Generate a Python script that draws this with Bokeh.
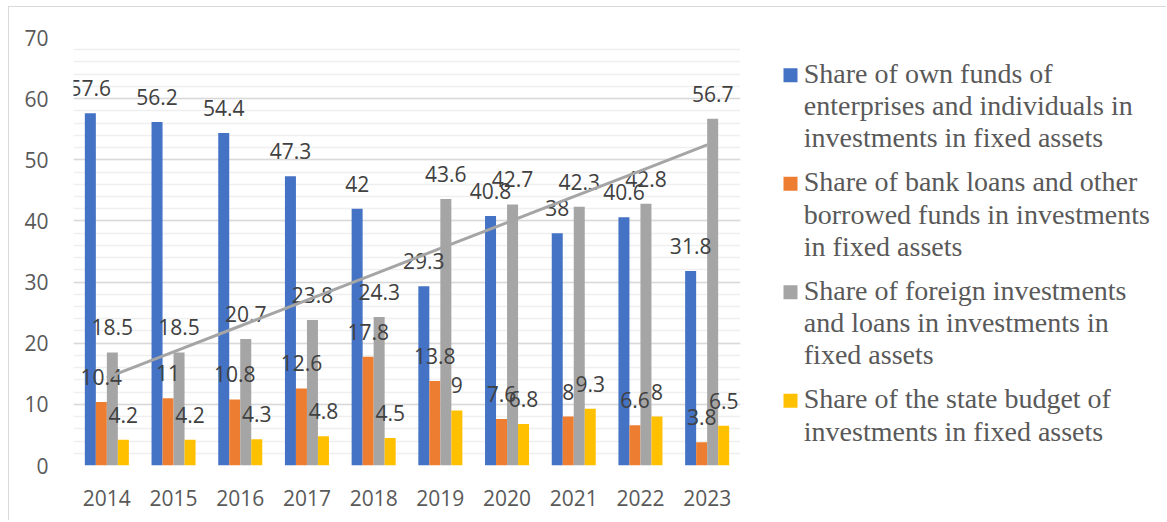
import numpy as np
from bokeh.plotting import figure
from bokeh.models import ColumnDataSource, Range1d, FactorRange, SingleIntervalTicker
from bokeh.transform import dodge
from bokeh.layouts import row
from bokeh.core.properties import value
from bokeh.embed import file_html
from bokeh.resources import INLINE

years = ["2014", "2015", "2016", "2017", "2018", "2019", "2020", "2021", "2022", "2023"]
own_funds = [57.6, 56.2, 54.4, 47.3, 42, 29.3, 40.8, 38, 40.6, 31.8]
bank_loans = [10.4, 11, 10.8, 12.6, 17.8, 13.8, 7.6, 8, 6.6, 3.8]
foreign_inv = [18.5, 18.5, 20.7, 23.8, 24.3, 43.6, 42.7, 42.3, 42.8, 56.7]
state_budget = [4.2, 4.2, 4.3, 4.8, 4.5, 9, 6.8, 9.3, 8, 6.5]

series_names = ["own_funds", "bank_loans", "foreign_inv", "state_budget"]
series_colors = ["#4472C4", "#ED7D31", "#A5A5A5", "#FFC000"]
legend_lines = [
    ["Share of own funds of", "enterprises and individuals in", "investments in fixed assets"],
    ["Share of bank loans and other", "borrowed funds in investments", "in fixed assets"],
    ["Share of foreign investments", "and loans in investments in", "fixed assets"],
    ["Share of the state budget of", "investments in fixed assets"],
]

data = dict(year=years, own_funds=own_funds, bank_loans=bank_loans,
            foreign_inv=foreign_inv, state_budget=state_budget)
for n in series_names:
    data[n + "_lbl"] = [f"{v:g}" for v in data[n]]
src = ColumnDataSource(data)

H = 513
MBT, MBB = 30, 55

p = figure(width=751, height=H, x_range=FactorRange(*years, range_padding=0),
           y_range=Range1d(0, 70), toolbar_location=None, output_backend="svg",
           min_border_left=64, min_border_right=20, min_border_top=MBT, min_border_bottom=MBB)
p.outline_line_color = None
p.background_fill_color = "white"
p.border_fill_color = "white"

bar_w = 0.165
offsets = [-1.5 * bar_w, -0.5 * bar_w, 0.5 * bar_w, 1.5 * bar_w]
for n, c, off in zip(series_names, series_colors, offsets):
    p.vbar(x=dodge("year", off, range=p.x_range), top=n, width=bar_w, source=src,
           fill_color=c, line_color=None)

for n, off in zip(series_names, offsets):
    p.text(x=dodge("year", off, range=p.x_range), y=n, text=n + "_lbl", source=src,
           y_offset=-25, text_align="center", text_baseline="middle",
           text_font=value("Open Sans"), text_font_size="21px", text_color="#404040")

# linear trendline of foreign investments share
xi = np.arange(len(years))
k, b = np.polyfit(xi, foreign_inv, 1)
trend = (k * xi + b).tolist()
p.line(x=years, y=trend, line_color="#A5A5A5", line_width=3)

ticker = SingleIntervalTicker(interval=10, num_minor_ticks=5)
p.yaxis.ticker = ticker
p.ygrid.ticker = ticker
p.ygrid.grid_line_color = "#D9D9D9"
p.ygrid.grid_line_width = 1.5
p.ygrid.minor_grid_line_color = "#EFEFEF"
p.ygrid.minor_grid_line_width = 1.5
p.xgrid.grid_line_color = None

for ax in (p.xaxis, p.yaxis):
    ax.axis_line_color = None
    ax.major_tick_line_color = None
    ax.minor_tick_line_color = None
    ax.major_label_text_font = "Open Sans"
    ax.major_label_text_font_size = "21px"
    ax.major_label_text_color = "#595959"
p.yaxis.major_label_standoff = 19
p.xaxis.major_label_standoff = 18

# legend panel (coordinates in page pixels; frame aligned with the chart frame)
lg = figure(width=406, height=H, x_range=Range1d(760, 1166), y_range=Range1d(465, 37),
            toolbar_location=None, output_backend="svg",
            min_border_left=0, min_border_right=0, min_border_top=MBT, min_border_bottom=MBB)
lg.axis.visible = False
lg.grid.grid_line_color = None
lg.outline_line_color = None
line_h = 32.3
gap = 11.6
base = 82.7
sq_x, sq_y, sq_c = [], [], []
t_x, t_y, t_s = [], [], []
for lines, c in zip(legend_lines, series_colors):
    sq_x.append(790)
    sq_y.append(base - 8)
    sq_c.append(c)
    for j, s in enumerate(lines):
        t_x.append(803.3)
        t_y.append(base - 10 + j * line_h)
        t_s.append(s)
    base += len(lines) * line_h + gap
lg.scatter(x=sq_x, y=sq_y, marker="square", size=14, fill_color=sq_c, line_color=None)
lg.text(x=t_x, y=t_y, text=t_s, text_align="left", text_baseline="alphabetic",
        text_font=value("Liberation Serif"), text_font_size="28px", text_color="#595959")

layout = row(p, lg, styles={"margin-left": "8px", "margin-top": "6px",
                            "border-top": "1px solid #D9D9D9",
                            "border-left": "1px solid #D9D9D9"})

open("out.html", "w").write(file_html(layout, INLINE))
